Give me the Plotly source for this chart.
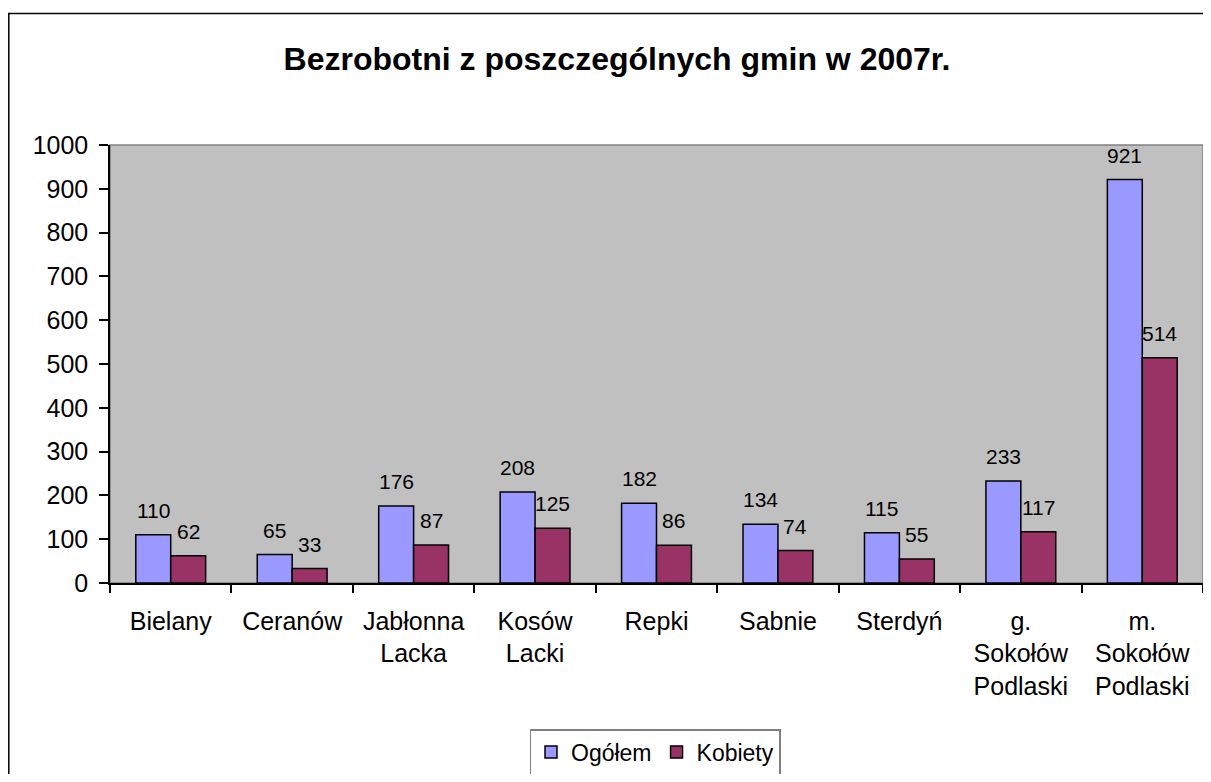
import plotly.graph_objects as go

categories = ["Bielany", "Ceranów", "Jabłonna<br>Lacka", "Kosów<br>Lacki", "Repki",
              "Sabnie", "Sterdyń", "g.<br>Sokołów<br>Podlaski", "m.<br>Sokołów<br>Podlaski"]
ogolem = [110, 65, 176, 208, 182, 134, 115, 233, 921]
kobiety = [62, 33, 87, 125, 86, 74, 55, 117, 514]
series_names = ["Ogółem", "Kobiety"]
y_ticks = [0, 100, 200, 300, 400, 500, 600, 700, 800, 900, 1000]

FONT = "Liberation Sans, Arial, sans-serif"
OFF = 8  # page body margin
W, H = 1195, 766
ML, MT = 110 - OFF, 145 - OFF
MR = 0
MB = H - (583 - OFF)
PW = W - ML - MR
PH = H - MT - MB
BARGAP = 0.425
half = (1 - BARGAP) / 4

fig = go.Figure()
fig.add_trace(go.Bar(x=list(range(len(categories))), y=ogolem, name=series_names[0],
                     marker=dict(color="#9999FF", line=dict(color="black", width=1.5))))
fig.add_trace(go.Bar(x=list(range(len(categories))), y=kobiety, name=series_names[1],
                     marker=dict(color="#993366", line=dict(color="black", width=1.5))))

annotations = []
for i, (a, b) in enumerate(zip(ogolem, kobiety)):
    for val, off in ((a, -half), (b, half)):
        annotations.append(dict(x=i + off, y=val, xref="x", yref="y", text=str(val),
                                showarrow=False, yanchor="bottom", yshift=11,
                                font=dict(family=FONT, size=21, color="black")))

def px_to_paper_x(px):
    return (px - OFF - ML) / PW

def px_to_paper_y(py):
    return (H - MB - (py - OFF)) / PH

fx0 = px_to_paper_x(8.8)
fx1 = px_to_paper_x(1215)
fy_top = px_to_paper_y(13.5)
fy_bot = px_to_paper_y(790)
frame_path = f"M {fx0},{fy_bot} L {fx0},{fy_top} L {fx1},{fy_top}"

shapes = [
    dict(type="rect", xref="paper", yref="paper", x0=0, x1=1, y0=0, y1=1,
         line=dict(color="#808080", width=1.5), layer="below"),
    dict(type="path", xref="paper", yref="paper", path=frame_path,
         line=dict(color="black", width=1.5), fillcolor="rgba(0,0,0,0)", layer="below"),
]

fig.update_layout(
    width=W, height=H,
    margin=dict(l=ML, r=MR, t=MT, b=MB, autoexpand=False),
    paper_bgcolor="white", plot_bgcolor="#C0C0C0",
    barmode="group", bargap=BARGAP, bargroupgap=0,
    font=dict(family=FONT, size=25, color="black"),
    title=dict(text="<b>Bezrobotni z poszczególnych gmin w 2007r.</b>",
               x=(617 - OFF) / W, xref="container", xanchor="center",
               y=1 - (59 - OFF) / H, yref="container", yanchor="middle",
               font=dict(family=FONT, size=32, color="black")),
    xaxis=dict(tickmode="array", tickvals=list(range(len(categories))), ticktext=categories,
               range=[-0.5, len(categories) - 0.5], automargin=False,
               showline=True, linecolor="black", linewidth=1.5,
               ticks="", showgrid=False, zeroline=False,
               tickfont=dict(family=FONT, size=25, color="black"), ticklabelstandoff=15),
    yaxis=dict(range=[0, 1000], tickmode="array", tickvals=y_ticks, automargin=False,
               showline=True, linecolor="black", linewidth=1.5,
               ticks="outside", ticklen=9, tickcolor="black", tickwidth=1.5,
               showgrid=False, zeroline=False, ticklabelstandoff=6,
               tickfont=dict(family=FONT, size=25, color="black")),
    legend=dict(orientation="h", x=px_to_paper_x(655), xanchor="center",
                y=px_to_paper_y(729), yanchor="top",
                bordercolor="#808080", borderwidth=1.5, bgcolor="white",
                font=dict(family=FONT, size=23, color="black"),
                itemwidth=30, tracegroupgap=0),
    annotations=annotations,
    shapes=shapes,
    showlegend=True,
)

fig.update_xaxes(minor=dict(tickmode="array", tickvals=[i - 0.5 for i in range(len(categories) + 1)],
                            ticks="outside", ticklen=8, tickcolor="black", tickwidth=1.5))

fig.write_html("out.html")
